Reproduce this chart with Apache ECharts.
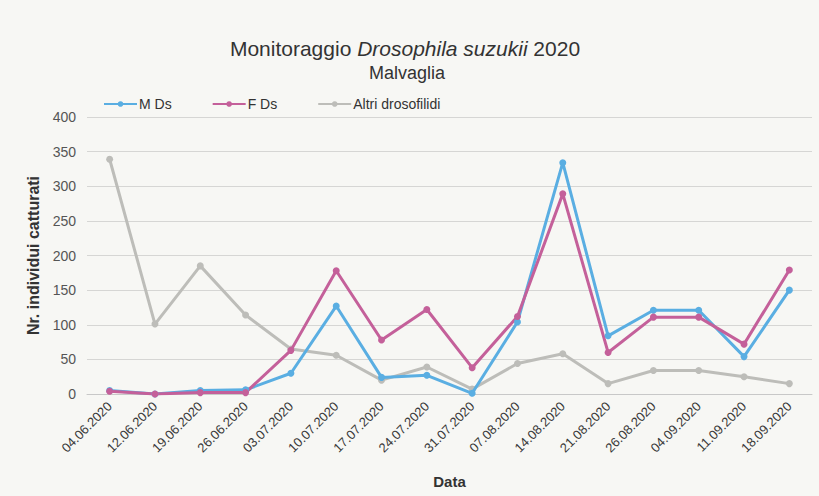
<!DOCTYPE html>
<html>
<head>
<meta charset="utf-8">
<script src="https://cdn.jsdelivr.net/npm/echarts@6/dist/echarts.min.js"></script>
<style>
  html, body { margin: 0; padding: 0; background: #f7f7f4; }
  #grafico { width: 819px; height: 496px; }
</style>
</head>
<body>
<div id="grafico"></div>
<script>
// Datos
const fechas = ['04.06.2020', '12.06.2020', '19.06.2020', '26.06.2020', '03.07.2020', '10.07.2020',
    '17.07.2020', '24.07.2020', '31.07.2020', '07.08.2020', '14.08.2020', '21.08.2020',
    '26.08.2020', '04.09.2020', '11.09.2020', '18.09.2020'];
const machos = [5, 0, 5, 6, 30, 127, 24, 27, 1, 104, 334, 84, 121, 121, 54, 150];
const hembras = [4, 0, 2, 2, 63, 178, 78, 122, 38, 112, 289, 60, 111, 111, 72, 179];
const otros = [339, 101, 185, 114, 65, 56, 20, 39, 7, 44, 58, 15, 34, 34, 25, 15];

function serie(nombre, datos, color) {
    return {
        name: nombre,
        type: 'line',
        data: datos,
        symbol: 'circle',
        symbolSize: 7,
        lineStyle: { width: 3, color: color },
        itemStyle: { color: color },
        z: nombre === 'Altri drosofilidi' ? 1 : 2
    };
}

function iniciar() {
    const chartDom = document.getElementById('grafico');
    const myChart = echarts.init(chartDom, null, {renderer: 'svg'});

    const option = {
        backgroundColor: '#f7f7f4',
        textStyle: { fontFamily: 'Liberation Sans' },
        title: [
            {
                text: '{n|Monitoraggio }{i|Drosophila suzukii}{n| 2020}',
                left: 400, top: 33, textAlign: 'center',
                textStyle: {
                    rich: {
                        n: { fontSize: 21, color: '#333', fontWeight: 'normal', fontFamily: 'Liberation Sans' },
                        i: { fontSize: 21, color: '#333', fontWeight: 'normal', fontStyle: 'italic', fontFamily: 'Liberation Sans' }
                    }
                }
            },
            {
                text: 'Malvaglia',
                left: 402, top: 59, textAlign: 'center',
                textStyle: { fontSize: 18, fontWeight: 'normal', color: '#333' }
            }
        ],
        legend: {
            left: 98, top: 92,
            itemWidth: 33, itemHeight: 7, itemGap: 40,
            textStyle: { fontSize: 14, color: '#333', padding: [0, 0, 0, -3] },
            data: ['M Ds', 'F Ds', 'Altri drosofilidi']
        },
        grid: { left: 87, right: 7, top: 117, bottom: 102, containLabel: false },
        xAxis: {
            type: 'category',
            data: fechas,
            boundaryGap: true,
            name: 'Data',
            nameLocation: 'middle',
            nameGap: 80,
            nameTextStyle: { fontSize: 15, fontWeight: 'bold', color: '#333' },
            axisLine: { show: true, lineStyle: { color: '#c8c8c8' } },
            axisTick: { show: false },
            axisLabel: { rotate: 45, fontSize: 13, color: '#3a3a3a', margin: 10 }
        },
        yAxis: {
            type: 'value',
            min: 0, max: 400, interval: 50,
            name: 'Nr. individui catturati',
            nameLocation: 'middle',
            nameGap: 44,
            nameTextStyle: { fontSize: 16, fontWeight: 'bold', color: '#333' },
            axisLine: { show: false },
            axisTick: { show: false },
            axisLabel: { fontSize: 14, color: '#555', margin: 11 },
            splitLine: { lineStyle: { color: '#d6d6d4' } }
        },
        series: [
            serie('M Ds', machos, '#5aaee2'),
            serie('F Ds', hembras, '#c4609a'),
            serie('Altri drosofilidi', otros, '#bdbdb9')
        ]
    };

    myChart.setOption(option);
}

iniciar();
</script>
</body>
</html>
